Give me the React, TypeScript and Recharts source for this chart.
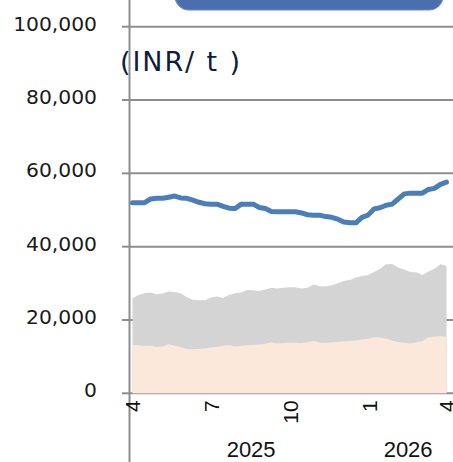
import React from "react";
import { ComposedChart, Line, Area, XAxis, YAxis, CartesianGrid } from "recharts";

// Weekly series, Apr 2025 -> Apr 2026 (week index 0..52)
const price = [
  52000, 52000, 52000, 53000, 53200, 53200, 53500, 53800, 53300, 53200,
  52700, 52100, 51700, 51600, 51600, 51000, 50500, 50400, 51600, 51600,
  51600, 50700, 50400, 49600, 49500, 49500, 49500, 49500, 49200, 48700,
  48600, 48600, 48200, 48000, 47500, 46700, 46500, 46500, 48000, 48600,
  50300, 50600, 51300, 51600, 53000, 54400, 54600, 54600, 54600, 55600,
  55900, 57000, 57600,
];
const upperBand = [
  25900, 26800, 27300, 27500, 27000, 27200, 27800, 27600, 27300, 26200,
  25500, 25400, 25400, 26100, 26400, 26000, 26900, 27300, 27500, 28200,
  28100, 27900, 28300, 28800, 28600, 28800, 28900, 28900, 28600, 28800,
  29700, 29200, 29200, 29500, 30000, 30600, 30900, 31600, 32000, 32200,
  33100, 34000, 35200, 35300, 34300, 33800, 33100, 33000, 32300, 33200,
  34000, 35200, 34800,
];
const lowerBand = [
  13200, 13100, 13000, 13000, 12600, 12800, 13400, 13000, 12600, 12100,
  12000, 12100, 12300, 12500, 12700, 13000, 13200, 12800, 13000, 13100,
  13200, 13300, 13500, 13900, 13600, 13700, 13800, 13800, 13700, 13900,
  14300, 13800, 13800, 13900, 14000, 14100, 14300, 14500, 14700, 14900,
  15300, 15200, 14900, 14400, 14000, 13800, 13600, 13900, 14300, 15200,
  15400, 15600, 15400,
];

const monthTickPos = [0, 13, 26.14, 39.29, 52];
const monthTickLabels = ["4", "7", "10", "1", "4"];
const yearLabels = ["2025", "2026"];
const yearPos = [(0 + 39.29) / 2, (39.29 + 52) / 2];
const yTicks = [0, 20000, 40000, 60000, 80000, 100000];
const unitLabel = "(INR/ t )";

const rows = price.map((p, i) => ({
  i,
  price: p,
  upper: upperBand[i],
  lower: lowerBand[i],
}));

const GRID = "#8e8e8e";

const MonthTick = (props: any) => {
  const { x, y, payload } = props;
  const idx = monthTickPos.indexOf(payload.value);
  const label = idx >= 0 ? monthTickLabels[idx] : "";
  return (
    <text
      x={x}
      y={y}
      dy="0.36em"
      transform={`rotate(-90, ${x}, ${y})`}
      textAnchor="end"
      fontFamily="'Liberation Sans', Arial, sans-serif"
      fontSize={21}
      fill="#111"
    >
      {label}
    </text>
  );
};

const YearTick = (props: any) => {
  const { x, y, payload } = props;
  const idx = yearPos.indexOf(payload.value);
  return (
    <text
      x={x}
      y={y}
      dy={23.7}
      textAnchor="middle"
      fontFamily="'Liberation Sans', Arial, sans-serif"
      fontSize={22}
      fill="#111"
    >
      {idx >= 0 ? yearLabels[idx] : ""}
    </text>
  );
};

const YTick = (props: any) => {
  const { x, y, payload } = props;
  return (
    <text
      x={x}
      y={y}
      dy={4}
      textAnchor="end"
      fontFamily="'DejaVu Sans', Verdana, sans-serif"
      fontSize={20.3}
      fill="#1a1a1a"
    >
      {Number(payload.value).toLocaleString("en-US")}
    </text>
  );
};

export default function App() {
  return (
    <div style={{ position: "absolute", left: 0, top: 0, width: 453, height: 462, overflow: "hidden", background: "#fff" }}>
      <svg width={453} height={462} style={{ position: "absolute", left: 0, top: 0 }}>
        <line x1={129.5} y1={0} x2={129.5} y2={462} stroke={GRID} strokeWidth={2} />
        <rect x={175} y={-25} width={268} height={35} rx={14} ry={14} fill="#4a6eae" stroke="#6a8ac2" strokeWidth={1.2} />
        <text
          x={120}
          y={70.5}
          fontFamily="'DejaVu Sans', Verdana, sans-serif"
          fontSize={27}
          letterSpacing={1.9}
          fill="#0f1d3d"
        >
          {unitLabel}
        </text>
      </svg>
      <div style={{ position: "absolute", left: 0, top: 0 }}>
        <ComposedChart
          width={453}
          height={462}
          data={rows}
          margin={{ top: 26.7, right: 0, bottom: 0, left: 0 }}
        >
          <CartesianGrid vertical={false} stroke={GRID} strokeWidth={2} xAxisId="m" />
          <XAxis
            xAxisId="m"
            dataKey="i"
            type="number"
            domain={[0, 52]}
            ticks={monthTickPos}
            padding={{ left: 2.5, right: 6.5 }}
            height={40}
            axisLine={false}
            tickLine={false}
            tickSize={0}
            tickMargin={7}
            tick={<MonthTick />}
            interval={0}
          />
          <XAxis
            xAxisId="y"
            dataKey="i"
            type="number"
            domain={[0, 52]}
            ticks={yearPos}
            padding={{ left: 2.5, right: 6.5 }}
            height={28.7}
            axisLine={false}
            tickLine={false}
            tickSize={0}
            tickMargin={0}
            tick={<YearTick />}
            interval={0}
          />
          <YAxis
            width={130}
            type="number"
            domain={[0, 100000]}
            ticks={yTicks}
            axisLine={false}
            tickSize={8}
            tickMargin={25}
            tickLine={{ stroke: GRID, strokeWidth: 2 }}
            tick={<YTick />}
            interval={0}
          />
          <Area
            xAxisId="m"
            type="linear"
            dataKey="upper"
            stroke="none"
            fill="#d4d4d4"
            fillOpacity={1}
            isAnimationActive={false}
          />
          <Area
            xAxisId="m"
            type="linear"
            dataKey="lower"
            stroke="none"
            fill="#fce8da"
            fillOpacity={1}
            isAnimationActive={false}
          />
          <Line
            xAxisId="m"
            type="linear"
            dataKey="price"
            stroke="#4a7ebb"
            strokeWidth={5}
            strokeLinecap="round"
            strokeLinejoin="round"
            dot={false}
            isAnimationActive={false}
          />
        </ComposedChart>
      </div>
    </div>
  );
}
